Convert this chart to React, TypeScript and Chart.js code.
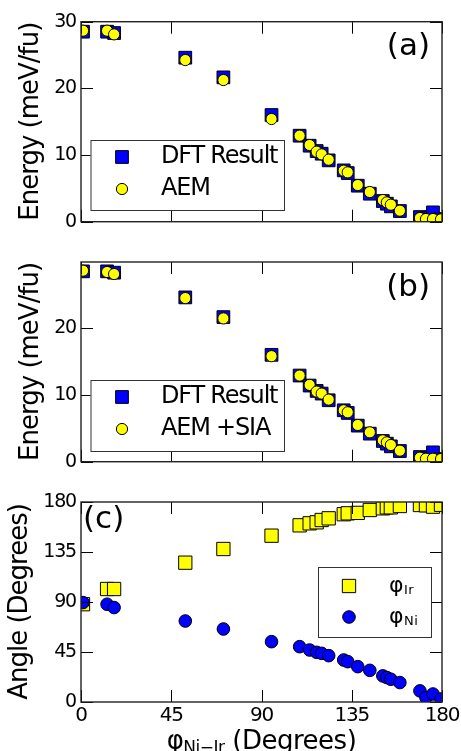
import React, { useEffect, useRef } from "react";
import { Chart, registerables } from "chart.js";

Chart.register(...registerables);

// ---------- data ----------
const phiNiIr = [1, 13, 16.5, 52, 71, 95, 109, 114, 117.5, 120, 123.5, 131, 133, 138, 144, 150.5, 152.5, 154.5, 159, 169, 172, 175.5, 179.5];
const dftEnergy = [28.5, 28.5, 28.3, 24.6, 21.65, 16.0, 12.9, 11.4, 10.6, 10.2, 9.2, 7.7, 7.3, 5.4, 4.2, 3.1, 2.7, 2.3, 1.6, 0.7, 0.5, 1.4, 0.4];
const aemEnergy = [28.65, 28.65, 28.1, 24.25, 21.25, 15.4, 12.9, 11.5, 10.5, 10.1, 9.3, 7.65, 7.4, 5.5, 4.45, 3.25, 2.9, 2.55, 1.65, 0.55, 0.4, 0.4, 0.35];
const aemSiaEnergy = [28.6, 28.4, 28.1, 24.5, 21.45, 15.8, 12.9, 11.5, 10.5, 10.2, 9.3, 7.7, 7.4, 5.5, 4.4, 3.2, 2.9, 2.5, 1.65, 0.6, 0.45, 0.45, 0.4];
const phiIr = [88, 101.7, 101.7, 125.4, 137.7, 149.7, 159, 160.8, 161.7, 163.8, 165.3, 169, 169.8, 170.2, 172.8, 174.3, 175.2, 175.2, 176.4, 177.3, 177, 175.8, 177.5];
const phiNi = [89.5, 88, 85, 72.9, 65.7, 54.3, 49.8, 46.8, 44.7, 43.8, 41.7, 37.8, 36.3, 31.8, 28.5, 23.5, 22, 20.5, 17.5, 10, 4, 7.2, 2.7];

const xTicks = [0, 45, 90, 135, 180];
const energyTicksA = [0, 10, 20, 30];
const energyTicksB = [0, 10, 20];
const angleTicks = [0, 45, 90, 135, 180];

const seriesLabelsA = ["DFT Result", "AEM"];
const seriesLabelsB = ["DFT Result", "AEM +SIA"];
const seriesLabelsC = ["φ_{Ir}", "φ_{Ni}"];
const yTitles = ["Energy (meV/fu)", "Energy (meV/fu)", "Angle (Degrees)"];
const xTitle = "φ_{Ni−Ir} (Degrees)";
const panelTags = ["(a)", "(b)", "(c)"];

// ---------- style ----------
const FONT = "'DejaVu Sans', 'Liberation Sans', sans-serif";
const BLUE = "#0000ff";
const YELLOW = "#ffff00";
const TICK_LEN = 12;

type Part = { t: string; sub?: boolean };
function parseLabel(s: string): Part[] {
  const parts: Part[] = [];
  const re = /_\{([^}]*)\}/g;
  let last = 0;
  let m: RegExpExecArray | null;
  while ((m = re.exec(s))) {
    if (m.index > last) parts.push({ t: s.slice(last, m.index) });
    parts.push({ t: m[1], sub: true });
    last = re.lastIndex;
  }
  if (last < s.length) parts.push({ t: s.slice(last) });
  return parts;
}

function drawRich(
  ctx: CanvasRenderingContext2D,
  s: string,
  x: number,
  y: number,
  size: number,
  subSize: number,
  subDy: number,
  ls: number,
  align: "left" | "center"
) {
  const parts = parseLabel(s);
  (ctx as any).letterSpacing = ls + "px";
  let total = 0;
  const widths = parts.map((p) => {
    ctx.font = `${p.sub ? subSize : size}px ${FONT}`;
    const w = ctx.measureText(p.t).width;
    total += w;
    return w;
  });
  let cx = align === "center" ? x - total / 2 : x;
  ctx.textAlign = "left";
  parts.forEach((p, i) => {
    ctx.font = `${p.sub ? subSize : size}px ${FONT}`;
    ctx.fillText(p.t, cx, p.sub ? y + subDy : y);
    cx += widths[i];
  });
}

function drawMarker(ctx: CanvasRenderingContext2D, ds: any, x: number, y: number) {
  ctx.beginPath();
  const r = ds.pointRadius;
  if (ds.pointStyle === "rect") {
    const h = r * Math.SQRT1_2;
    ctx.rect(x - h, y - h, 2 * h, 2 * h);
  } else {
    ctx.arc(x, y, r, 0, Math.PI * 2);
  }
  ctx.fillStyle = ds.backgroundColor;
  ctx.fill();
  ctx.lineWidth = ds.borderWidth;
  ctx.strokeStyle = ds.borderColor;
  ctx.stroke();
}

interface PanelSpec {
  top: number;
  height: number;
  areaTop: number;
  areaBottom: number;
  yMax: number;
  yTicks: number[];
  yTitle: string;
  yTitleX: number;
  tag: string;
  tagX: number;
  tagY: number;
  tagAlign: "left" | "right";
  showXLabels: boolean;
  datasets: any[];
  legend: { x: number; y: number; w: number; h: number; rows: number[]; markerX: number; textX: number; size: number; subSize: number; ls: number };
}

const AREA_LEFT = 81;
const AREA_RIGHT = 442;
const PAGE_W = 461;

function makeChart(canvas: HTMLCanvasElement, spec: PanelSpec) {
  const padTop = spec.areaTop - spec.top;
  const xAxisH = spec.top + spec.height - spec.areaBottom;
  const deco = {
    id: "deco",
    beforeDraw(chart: any) {
      (chart.ctx as any).letterSpacing = "-1.2px";
    },
    afterDraw(chart: any) {
      const ctx: CanvasRenderingContext2D = chart.ctx;
      const { left, right, top, bottom } = chart.chartArea;
      const xs = chart.scales.x;
      const ys = chart.scales.y;
      ctx.save();
      (ctx as any).letterSpacing = "0px";
      // inward ticks on all four sides
      ctx.strokeStyle = "#000";
      ctx.lineWidth = 1;
      ctx.beginPath();
      xs.ticks.forEach((t: any) => {
        const px = Math.round(xs.getPixelForValue(t.value)) + 0.5;
        ctx.moveTo(px, bottom);
        ctx.lineTo(px, bottom - TICK_LEN);
        ctx.moveTo(px, top);
        ctx.lineTo(px, top + TICK_LEN);
      });
      ys.ticks.forEach((t: any) => {
        const py = Math.round(ys.getPixelForValue(t.value)) + 0.5;
        ctx.moveTo(left, py);
        ctx.lineTo(left + TICK_LEN, py);
        ctx.moveTo(right, py);
        ctx.lineTo(right - TICK_LEN, py);
      });
      ctx.stroke();
      // frame
      ctx.lineWidth = 1.4;
      ctx.strokeStyle = "#222";
      ctx.strokeRect(left, top, right - left, bottom - top);

      // legend
      const lg = spec.legend;
      ctx.fillStyle = "#fff";
      ctx.fillRect(lg.x, lg.y, lg.w, lg.h);
      ctx.lineWidth = 1;
      ctx.strokeStyle = "#333";
      ctx.strokeRect(lg.x + 0.5, lg.y + 0.5, lg.w, lg.h);
      chart.data.datasets.forEach((ds: any, i: number) => {
        drawMarker(ctx, ds, lg.markerX, lg.rows[i]);
        ctx.fillStyle = "#000";
        ctx.textBaseline = "middle";
        drawRich(ctx, ds.label, lg.textX, lg.rows[i], lg.size, lg.subSize, lg.size * 0.22, lg.ls, "left");
      });

      // panel tag
      ctx.fillStyle = "#000";
      (ctx as any).letterSpacing = "0px";
      ctx.font = `31px ${FONT}`;
      ctx.textAlign = spec.tagAlign;
      ctx.textBaseline = "middle";
      ctx.fillText(spec.tag, spec.tagX, spec.tagY);

      // y title
      ctx.save();
      (ctx as any).letterSpacing = "-1px";
      ctx.translate(spec.yTitleX, (top + bottom) / 2);
      ctx.rotate(-Math.PI / 2);
      ctx.font = `26px ${FONT}`;
      ctx.textAlign = "center";
      ctx.textBaseline = "middle";
      ctx.fillText(spec.yTitle, 0, 0);
      ctx.restore();

      // x title
      if (spec.showXLabels) {
        ctx.textBaseline = "alphabetic";
        ctx.fillStyle = "#000";
        drawRich(ctx, xTitle, (left + right) / 2, bottom + 46.5, 26, 17, 4, -0.5, "center");
      }
      ctx.restore();
    },
  };

  return new Chart(canvas, {
    type: "scatter",
    data: { datasets: spec.datasets },
    plugins: [deco],
    options: {
      animation: false,
      responsive: false,
      events: [],
      layout: { padding: { left: 0, right: PAGE_W - AREA_RIGHT, top: padTop, bottom: 0 } },
      plugins: { legend: { display: false }, tooltip: { enabled: false } },
      scales: {
        x: {
          type: "linear",
          min: 0,
          max: 180,
          afterBuildTicks: (ax: any) => {
            ax.ticks = xTicks.map((v) => ({ value: v }));
          },
          afterFit: (s: any) => {
            s.height = xAxisH;
            s.paddingLeft = 0;
            s.paddingRight = 0;
          },
          grid: { display: false, drawTicks: false },
          border: { display: false },
          ticks: {
            display: spec.showXLabels,
            padding: 2,
            color: "#000",
            font: { family: FONT, size: 20 },
            maxRotation: 0,
            autoSkip: false,
          },
        },
        y: {
          type: "linear",
          min: 0,
          max: spec.yMax,
          afterBuildTicks: (ax: any) => {
            ax.ticks = spec.yTicks.map((v) => ({ value: v }));
          },
          afterFit: (s: any) => {
            s.width = AREA_LEFT;
            s.paddingTop = 0;
            s.paddingBottom = 0;
          },
          grid: { display: false, drawTicks: false },
          border: { display: false },
          ticks: {
            padding: 5,
            color: "#000",
            font: { family: FONT, size: 19 },
            autoSkip: false,
          },
        },
      },
    },
  } as any);
}

function pts(ys: number[]) {
  return phiNiIr.map((x, i) => ({ x, y: ys[i] }));
}

function squareSet(label: string, ys: number[], color: string, r: number, order: number) {
  return {
    label,
    data: pts(ys),
    pointStyle: "rect",
    pointRadius: r,
    backgroundColor: color,
    borderColor: "#000",
    borderWidth: 1,
    clip: 0,
    order,
  };
}
function circleSet(label: string, ys: number[], color: string, r: number, order: number) {
  return {
    label,
    data: pts(ys),
    pointStyle: "circle",
    pointRadius: r,
    backgroundColor: color,
    borderColor: "#000",
    borderWidth: 1,
    clip: 0,
    order,
  };
}

export default function App() {
  const refA = useRef<HTMLCanvasElement>(null);
  const refB = useRef<HTMLCanvasElement>(null);
  const refC = useRef<HTMLCanvasElement>(null);

  useEffect(() => {
    document.body.style.margin = "0";
    const specs: PanelSpec[] = [
      {
        top: 0,
        height: 242,
        areaTop: 21.7,
        areaBottom: 221.7,
        yMax: 30,
        yTicks: energyTicksA,
        yTitle: yTitles[0],
        yTitleX: 31,
        tag: panelTags[0],
        tagX: 430,
        tagY: 47,
        tagAlign: "right",
        showXLabels: false,
        datasets: [
          squareSet(seriesLabelsA[0], dftEnergy, BLUE, 9, 1),
          circleSet(seriesLabelsA[1], aemEnergy, YELLOW, 5.6, 0),
        ],
        legend: { x: 90.5, y: 140, w: 193.5, h: 70, rows: [157, 189], markerX: 122, textX: 161, size: 24, subSize: 16, ls: -1.2 },
      },
      {
        top: 242,
        height: 240,
        areaTop: 262,
        areaBottom: 461.7,
        yMax: 29.9,
        yTicks: energyTicksB,
        yTitle: yTitles[1],
        yTitleX: 31,
        tag: panelTags[1],
        tagX: 430,
        tagY: 46,
        tagAlign: "right",
        showXLabels: false,
        datasets: [
          squareSet(seriesLabelsB[0], dftEnergy, BLUE, 9, 1),
          circleSet(seriesLabelsB[1], aemSiaEnergy, YELLOW, 5.6, 0),
        ],
        legend: { x: 90.5, y: 138, w: 193.5, h: 71, rows: [155, 187], markerX: 122, textX: 161, size: 24, subSize: 16, ls: -1.2 },
      },
      {
        top: 482,
        height: 269,
        areaTop: 502,
        areaBottom: 702,
        yMax: 180,
        yTicks: angleTicks,
        yTitle: yTitles[2],
        yTitleX: 20,
        tag: panelTags[2],
        tagX: 83,
        tagY: 38,
        tagAlign: "left",
        showXLabels: true,
        datasets: [
          squareSet(seriesLabelsC[0], phiIr, YELLOW, 9.4, 1),
          circleSet(seriesLabelsC[1], phiNi, BLUE, 6.3, 0),
        ],
        legend: { x: 318, y: 85, w: 113, h: 70, rows: [104, 135], markerX: 349, textX: 389, size: 22, subSize: 13, ls: 0.5 },
      },
    ];
    const canvases = [refA.current!, refB.current!, refC.current!];
    const charts = specs.map((s, i) => makeChart(canvases[i], s));
    return () => charts.forEach((c) => c.destroy());
  }, []);

  const cStyle = (top: number): React.CSSProperties => ({ position: "absolute", left: 0, top, display: "block" });
  return (
    <div style={{ position: "absolute", left: 0, top: 0, width: 461, height: 751, background: "#fff", overflow: "hidden" }}>
      <canvas ref={refA} width={461} height={242} style={cStyle(0)} />
      <canvas ref={refB} width={461} height={240} style={cStyle(242)} />
      <canvas ref={refC} width={461} height={269} style={cStyle(482)} />
    </div>
  );
}
